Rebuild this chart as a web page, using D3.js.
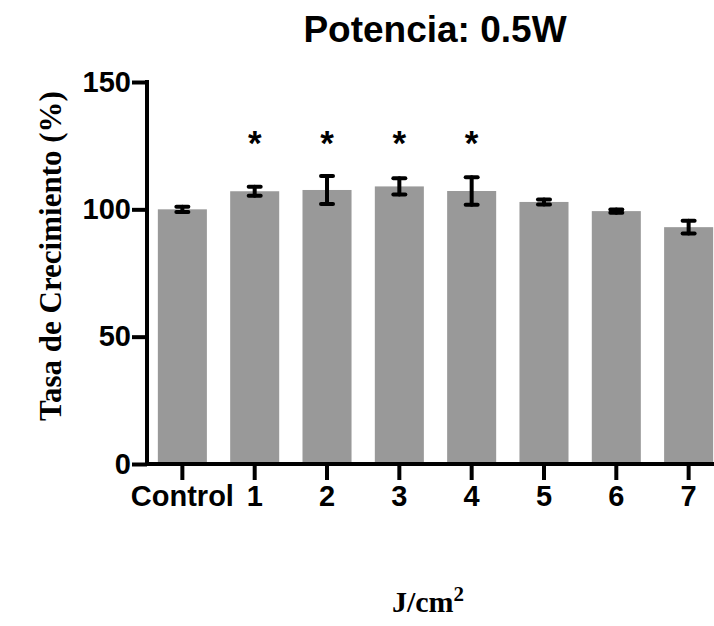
<!DOCTYPE html>
<html>
<head>
<meta charset="utf-8">
<script src="https://cdn.jsdelivr.net/npm/d3@7"></script>
<style>
  body { margin: 0; background: #fff; }
  svg { display: block; }
</style>
</head>
<body>
<svg id="chart" width="714" height="626"></svg>
<script>
// dosis (J/cm2) y tasa de crecimiento media con su error
var categories = ["Control", "1", "2", "3", "4", "5", "6", "7"];
var means      = [100.0, 107.1, 107.6, 109.0, 107.2, 102.9, 99.3, 93.0];
var errors     = [1.0, 1.8, 5.5, 3.2, 5.4, 1.0, 0.6, 2.5];
var signif     = [false, true, true, true, true, false, false, false];
var yTicks     = [0, 50, 100, 150];

let svg = d3.select("#chart"),
    width = + svg.attr("width"),
    height = + svg.attr("height"),
    bar_color = "#999999",
    axis_width = 4,
    label_font = "Arial, 'Liberation Sans', sans-serif",
    serif_font = "'Times New Roman', 'Liberation Serif', serif";

var x = d3.scaleBand()
    .domain(categories)
    .range([147, 724])
    .paddingInner(0.322)
    .paddingOuter(0.15);

var y = d3.scaleLinear()
    .domain([0, 150])
    .range([464, 82]);

// barras
svg.append("g")
   .selectAll("rect")
   .data(categories)
   .enter()
   .append("rect")
   .attr("x", function(d){ return x(d); })
   .attr("width", x.bandwidth())
   .attr("y", function(d, i){ return y(means[i]); })
   .attr("height", function(d, i){ return y(0) - y(means[i]); })
   .attr("fill", bar_color);

// barras de error
var eb = svg.append("g")
    .attr("stroke", "#000")
    .attr("stroke-width", 4)
    .attr("stroke-linecap", "round");

categories.forEach(function(c, i){
    let cx = x(c) + x.bandwidth() / 2,
        hi = y(means[i] + errors[i]),
        lo = y(means[i] - errors[i]);
    eb.append("line").attr("x1", cx).attr("x2", cx).attr("y1", hi).attr("y2", lo);
    eb.append("line").attr("x1", cx - 6).attr("x2", cx + 6).attr("y1", hi).attr("y2", hi);
    eb.append("line").attr("x1", cx - 6).attr("x2", cx + 6).attr("y1", lo).attr("y2", lo);
});

// asteriscos
svg.append("g")
   .selectAll("text")
   .data(categories.filter(function(d, i){ return signif[i]; }))
   .enter()
   .append("text")
   .attr("x", function(d){ return x(d) + x.bandwidth() / 2; })
   .attr("y", 155)
   .attr("text-anchor", "middle")
   .style("font-family", label_font)
   .style("font-weight", "bold")
   .style("font-size", "35px")
   .text("*");

// eje y
var yAxis = svg.append("g")
    .attr("transform", "translate(147,0)")
    .call(d3.axisLeft(y).tickValues(yTicks).tickSize(15).tickPadding(1).tickSizeOuter(0));

// eje x
var xAxis = svg.append("g")
    .attr("transform", "translate(0,464)")
    .call(d3.axisBottom(x).tickSize(16).tickPadding(5).tickSizeOuter(0));

[yAxis, xAxis].forEach(function(a){
    a.select(".domain").remove();
    a.selectAll("line").attr("stroke", "#000").attr("stroke-width", axis_width);
    a.selectAll("text")
     .attr("fill", "#000")
     .style("font-family", label_font)
     .style("font-weight", "bold")
     .style("font-size", "29px");
});

svg.append("line")
   .attr("x1", 147).attr("x2", 147)
   .attr("y1", y(150) - 2).attr("y2", y(0) + 2)
   .attr("stroke", "#000").attr("stroke-width", axis_width);
svg.append("line")
   .attr("x1", 145).attr("x2", width)
   .attr("y1", y(0)).attr("y2", y(0))
   .attr("stroke", "#000").attr("stroke-width", axis_width);

// titulo
svg.append("text")
   .attr("x", 435)
   .attr("y", 42)
   .attr("text-anchor", "middle")
   .style("font-family", label_font)
   .style("font-weight", "bold")
   .style("font-size", "37px")
   .text("Potencia: 0.5W");

// etiqueta y
svg.append("text")
   .attr("transform", "translate(61,256) rotate(-90)")
   .attr("text-anchor", "middle")
   .style("font-family", serif_font)
   .style("font-weight", "bold")
   .style("font-size", "31px")
   .text("Tasa de Crecimiento (%)");

// etiqueta x
var xl = svg.append("text")
   .attr("x", 428)
   .attr("y", 612)
   .attr("text-anchor", "middle")
   .style("font-family", serif_font)
   .style("font-weight", "bold")
   .style("font-size", "30px");
xl.append("tspan").text("J/cm");
xl.append("tspan").attr("dy", -11).style("font-size", "21px").text("2");
</script>
</body>
</html>
